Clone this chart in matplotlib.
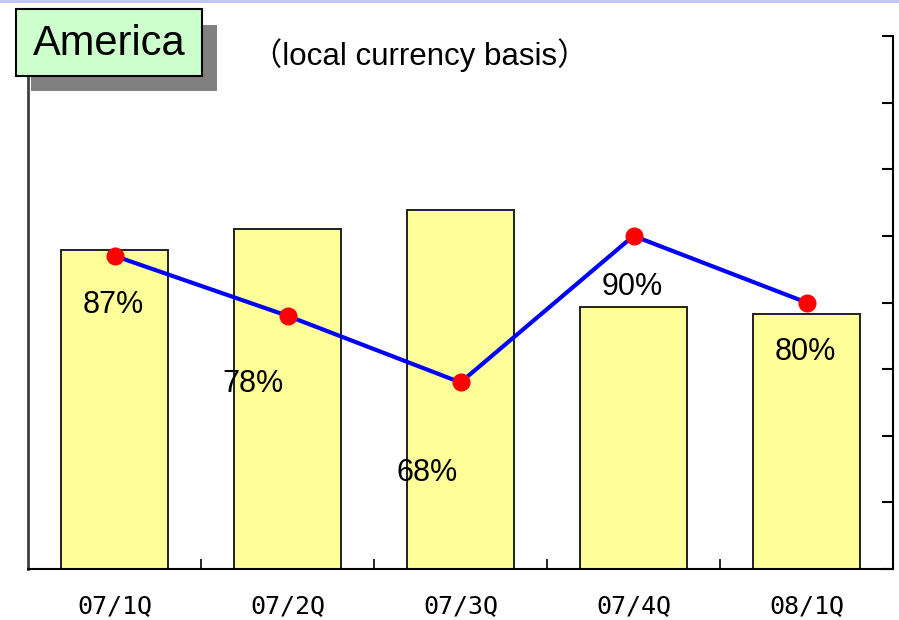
import matplotlib
matplotlib.use("Agg")
import matplotlib.pyplot as plt
from matplotlib.patches import Rectangle
from matplotlib.lines import Line2D

categories = ["07/1Q", "07/2Q", "07/3Q", "07/4Q", "08/1Q"]
bar_values = [4.79, 5.10, 5.39, 3.93, 3.83]
ratio_pct = [87, 78, 68, 90, 80]
ratio_labels = ["87%", "78%", "68%", "90%", "80%"]

fig = plt.figure(figsize=(8.99, 6.2), dpi=100)
W, H = 899, 620
x0, x1, y0, y1 = 28, 893, 569, 36
ax = fig.add_axes([x0 / W, 1 - y0 / H, (x1 - x0) / W, (y0 - y1) / H])
x = list(range(len(categories)))
ax.bar(x, bar_values, width=0.62, color="#ffff99", edgecolor="#202020", linewidth=1.4, zorder=2)
ax.set_xlim(-0.5, len(categories) - 0.5)
ax.set_ylim(0, 8)
ax.set_yticks([])
ax.spines["top"].set_visible(False)
ax.spines["right"].set_visible(False)
ax.spines["left"].set_color("#404040")
ax.spines["left"].set_linewidth(2)
ax.spines["bottom"].set_linewidth(1.5)
ax.set_xticks(x)
ax.set_xticklabels(categories, fontfamily="DejaVu Sans Mono", fontsize=18)
ax.tick_params(axis="x", which="major", length=0, pad=18)
ax.set_xticks([i + 0.5 for i in x[:-1]], minor=True)
ax.tick_params(axis="x", which="minor", direction="in", length=7, width=1.2)

ax2 = ax.twinx()
ax2.set_ylim(40, 120)
ax2.set_yticks(range(40, 121, 10))
ax2.set_yticklabels([])
ax2.tick_params(axis="y", direction="in", length=8, width=1.5)
for s in ["top", "left", "bottom"]:
    ax2.spines[s].set_visible(False)
ax2.spines["right"].set_linewidth(1.5)
ax2.plot(x, ratio_pct, color="#0000ff", linewidth=3, marker="o", markersize=12,
         markerfacecolor="#ff0000", markeredgecolor="#ff0000", zorder=5)

offsets = [(-1, -49), (-35, -68), (-33, -91), (-1, -51), (-1, -50)]
for xi, yi, lab, off in zip(x, ratio_pct, ratio_labels, offsets):
    ax2.annotate(lab, (xi, yi), xytext=off, textcoords="offset pixels",
                 ha="center", va="center", fontsize=22, fontfamily="Liberation Sans",
                 color="black")

# title box with shadow
fig.patches.append(Rectangle((31 / W, 1 - 91 / H), (217 - 31) / W, (91 - 25) / H,
                             transform=fig.transFigure, facecolor="#808080", edgecolor="none", zorder=10))
fig.patches.append(Rectangle((16 / W, 1 - 76 / H), (202 - 16) / W, (76 - 9) / H,
                             transform=fig.transFigure, facecolor="#ccffcc", edgecolor="black",
                             linewidth=1.5, zorder=11))
fig.text(109 / W, 1 - 44 / H, "America", fontsize=30, fontfamily="Liberation Sans",
         ha="center", va="center", zorder=12)
fig.text(420 / W, 1 - 55 / H, "（local currency basis）", fontsize=22.5,
         fontfamily=["Liberation Sans", "Noto Sans CJK JP"], ha="center", va="center")

fig.lines.append(Line2D([0, 1], [1 - 1 / H, 1 - 1 / H], transform=fig.transFigure,
                        color="#c0c0ff", linewidth=2))

fig.savefig("out.png", dpi=100)
